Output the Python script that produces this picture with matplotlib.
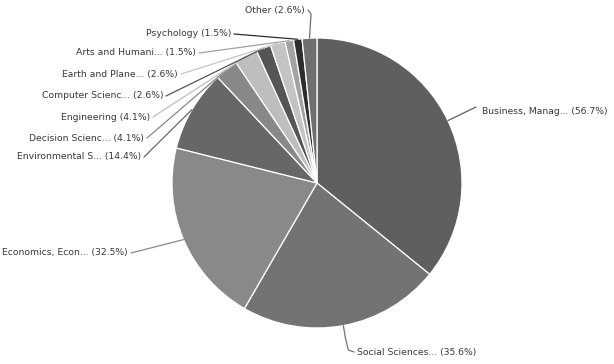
import numpy as np
import matplotlib
matplotlib.use('agg')
import matplotlib.pyplot as plt

subjects = ['Business, Manag...', 'Social Sciences...', 'Economics, Econ...',
            'Environmental S...', 'Decision Scienc...', 'Engineering',
            'Computer Scienc...', 'Earth and Plane...', 'Arts and Humani...',
            'Psychology', 'Other']
shares = [56.7, 35.6, 32.5, 14.4, 4.1, 4.1, 2.6, 2.6, 1.5, 1.5, 2.6]

greys = ['#5f5f5f', '#737373', '#898989', '#676767', '#888888', '#bebebe',
         '#555555', '#c4c4c4', '#a2a2a2', '#2d2d2d', '#6f6f6f']

# label anchors in pixel space (x, y, alignment)
label_pos = [(482, 111, 'left'), (357, 352, 'left'), (128, 253, 'right'),
             (141, 157, 'right'), (144, 138, 'right'), (150, 117, 'right'),
             (163, 96, 'right'), (178, 74, 'right'), (196, 53, 'right'),
             (231, 34, 'right'), (305, 11, 'right')]

CX, CY, R = 317, 183, 145

fig = plt.figure(figsize=(6.14, 3.64), dpi=100)
ax = fig.add_axes([0, 0, 1, 1])

# y runs downwards, so counterclockwise in data is clockwise on screen
wedges, _ = ax.pie(shares, colors=greys, center=(CX, CY), radius=R,
                   startangle=-90, counterclock=True,
                   wedgeprops=dict(edgecolor='white', linewidth=0.9))

for w, name, val, (lx, ly, ha) in zip(wedges, subjects, shares, label_pos):
    mid = np.deg2rad((w.theta1 + w.theta2) / 2)
    ex, ey = CX + R * np.cos(mid), CY + R * np.sin(mid)
    col = w.get_facecolor()
    if name == 'Other':
        xs, ys = [lx + 3, lx + 6, ex], [ly - 1, ly + 3, ey]
    elif name.startswith('Social'):
        xs, ys = [ex, ex + 2, ex + 5, lx - 3], [ey, ey + 12, ly - 2, ly]
    elif ha == 'right':
        xs, ys = [lx + 3, ex], [ly, ey]
    else:
        xs, ys = [ex, lx - 6], [ey, ly - 4]
    ax.plot(xs, ys, color=col, lw=0.9, solid_capstyle='round')
    ax.text(lx, ly, '%s (%.1f%%)' % (name, val), ha=ha, va='center',
            fontsize=6.7, color='#383838', family='DejaVu Sans')

ax.set_xlim(0, 614)
ax.set_ylim(364, 0)
ax.set_aspect('auto')
ax.axis('off')

fig.savefig('out.png', dpi=100, facecolor='white')
